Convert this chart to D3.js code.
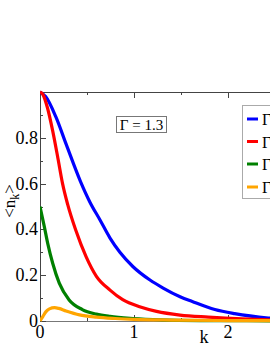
<!DOCTYPE html>
<html><head><meta charset="utf-8">
<script src="https://cdn.jsdelivr.net/npm/d3@7"></script>
<style>body{margin:0;background:#fff;overflow:hidden}svg{display:block}</style>
</head><body>
<script>
const blueK  = [0,0.06,0.17,0.28,0.43,0.53,0.64,0.745,0.85,0.99,1.17,1.31,1.49,1.62,1.86,2.07,2.43,2.8];
const blueV  = [1.0,0.98,0.89,0.77,0.61,0.52,0.44,0.362,0.3,0.237,0.179,0.144,0.106,0.085,0.05,0.032,0.013,0.005];
const redK   = [0,0.03,0.08,0.135,0.19,0.24,0.295,0.38,0.49,0.6,0.745,0.88,1.06,1.24,1.49,1.79,2.15,2.43,2.8];
const redV   = [1.0,0.99,0.93,0.83,0.712,0.6,0.508,0.397,0.281,0.195,0.135,0.093,0.062,0.042,0.026,0.017,0.009,0.005,0.002];
const greenK = [0,0.046,0.082,0.135,0.205,0.31,0.45,0.6,0.745,0.99,1.3,1.7,2.2,2.8];
const greenV = [0.5,0.412,0.339,0.252,0.165,0.092,0.05,0.03,0.02,0.011,0.005,0.002,0.001,0];
const orangeK= [0,0.03,0.064,0.1,0.155,0.2,0.277,0.42,0.6,0.8,1.0,1.4,2,2.8];
const orangeV= [0,0.019,0.041,0.053,0.058,0.055,0.044,0.027,0.017,0.011,0.007,0.004,0.002,0.001];
const seriesColors = ["#0000ff","#ff0000","#008000","#ffa500"];
const legendLabels = ["Γ","Γ","Γ","Γ"];
const xTickLabels = [0,1,2];
const yTickLabels = [0,0.2,0.4,0.6,0.8];
const annotation = "Γ = 1.3";

const W=270,H=349;
const font = "'Liberation Serif','Times New Roman',serif";
const svg = d3.select("body").append("svg").attr("width",W).attr("height",H);
const x = d3.scaleLinear().domain([0,3]).range([40,322]);
const y = d3.scaleLinear().domain([0,1]).range([321,92]);

svg.append("defs").append("clipPath").attr("id","clip")
  .append("rect").attr("x",40).attr("y",90).attr("width",290).attr("height",233);

const frame="#444";
svg.append("line").attr("x1",40).attr("x2",330).attr("y1",92.5).attr("y2",92.5).attr("stroke",frame);
svg.append("line").attr("x1",40.5).attr("x2",40.5).attr("y1",92).attr("y2",321).attr("stroke",frame);
svg.append("line").attr("x1",40).attr("x2",330).attr("y1",321.5).attr("y2",321.5).attr("stroke","#777");

const minorY = d3.range(0,1.0001,0.1);
minorY.forEach(v=>{
  const major = Math.round(v*10)%2===0;
  svg.append("line").attr("x1",40).attr("x2",40+(major?6:3))
    .attr("y1",Math.round(y(v))+0.5).attr("y2",Math.round(y(v))+0.5).attr("stroke",frame);
});
const xt = d3.range(0.5,3.0001,0.5);
xt.forEach(v=>{
  const major = Math.abs(v-Math.round(v))<1e-6;
  const L = major?6:3;
  const px = Math.round(x(v))+0.5;
  svg.append("line").attr("x1",px).attr("x2",px).attr("y1",321).attr("y2",321-L).attr("stroke",frame);
  svg.append("line").attr("x1",px).attr("x2",px).attr("y1",92).attr("y2",92+L).attr("stroke",frame);
});

svg.selectAll(".xl").data(xTickLabels).enter().append("text")
  .attr("x",d=>x(d)).attr("y",338).attr("text-anchor","middle")
  .attr("font-family",font).attr("font-size",18).text(d=>d);
svg.selectAll(".yl").data(yTickLabels).enter().append("text")
  .attr("x",38).attr("y",d=>y(d)+6).attr("text-anchor","end")
  .attr("font-family",font).attr("font-size",18).text(d=>d===0?"0":d.toFixed(1));

svg.append("text").attr("x",204).attr("y",343).attr("text-anchor","middle")
  .attr("font-family",font).attr("font-size",18).text("k");
const yl = svg.append("text").attr("transform","translate(15,201) rotate(-90)")
  .attr("text-anchor","middle").attr("font-family",font).attr("font-size",17);
yl.append("tspan").text("<n");
yl.append("tspan").attr("font-size",12).attr("dy",4).text("k");
yl.append("tspan").attr("dy",-4).text(">");

const line = d3.line().x(d=>x(d[0])).y(d=>y(d[1])).curve(d3.curveMonotoneX);
const series = [[blueK,blueV],[redK,redV],[greenK,greenV],[orangeK,orangeV]];
const g = svg.append("g").attr("clip-path","url(#clip)");
series.forEach((s,i)=>{
  const pts = s[0].map((k,j)=>[k,s[1][j]]);
  g.append("path").datum(pts).attr("d",line).attr("fill","none")
    .attr("stroke",seriesColors[i]).attr("stroke-width",3.2).attr("stroke-linejoin","round");
});

svg.append("rect").attr("x",116.5).attr("y",116.5).attr("width",50).attr("height",16)
  .attr("fill","#fff").attr("stroke","#777");
svg.append("text").attr("x",141.5).attr("y",129.5).attr("text-anchor","middle")
  .attr("font-family",font).attr("font-size",15).text(annotation);

svg.append("rect").attr("x",242.5).attr("y",105.5).attr("width",60).attr("height",93)
  .attr("fill","#fff").attr("stroke","#aaa");
const ly = [119,141.5,164,187];
legendLabels.forEach((t,i)=>{
  svg.append("line").attr("x1",247).attr("x2",258).attr("y1",ly[i]).attr("y2",ly[i])
    .attr("stroke",seriesColors[i]).attr("stroke-width",3);
  svg.append("text").attr("x",262).attr("y",ly[i]+6).attr("font-family",font)
    .attr("font-size",16).text(t);
});
</script>
</body></html>
